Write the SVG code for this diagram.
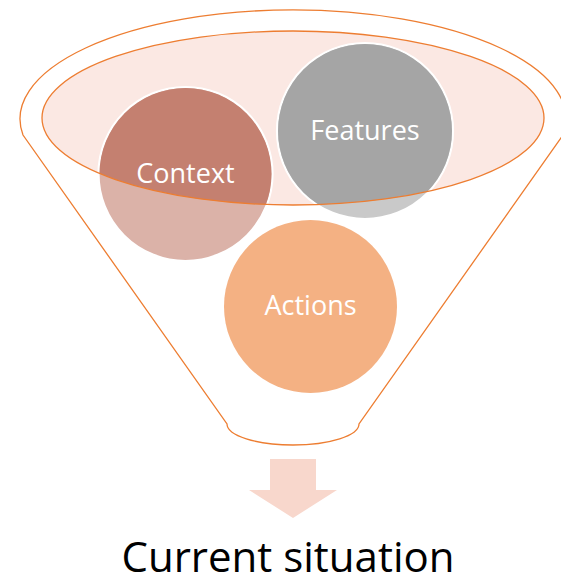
<svg xmlns="http://www.w3.org/2000/svg" width="561" height="583" viewBox="0 0 561 583">
<style>
.funnel{fill:none;stroke:#ED7D31;stroke-width:1.3}
.rim{stroke:#ED7D31;stroke-width:1.3}
.circ{stroke:#FFFFFF;stroke-width:2.2}
.lbl{font-family:"Open Sans","Liberation Sans",sans-serif;font-size:27px;fill:#FFFFFF;text-anchor:middle}
.cap{font-family:"Open Sans","Liberation Sans",sans-serif;font-size:42px;fill:#000000;text-anchor:middle}
</style>
<defs>
<clipPath id="inside"><ellipse cx="293" cy="118" rx="251" ry="87"/></clipPath>
</defs>
<rect width="561" height="583" fill="#FFFFFF"/>
<g id="funnel">
<path class="funnel" d="M 23 135 A 273 109 0 1 1 563 135 L 359 424 A 66 21 0 0 1 227 424 Z"/>
<ellipse cx="293" cy="118" rx="251" ry="87" fill="#FBE8E3"/>
</g>
<g id="context">
<circle class="circ" cx="185.5" cy="174" r="87" fill="#DBB2A8"/>
<circle cx="185.5" cy="174" r="86" fill="#C48070" clip-path="url(#inside)"/>
<text class="lbl" x="185.5" y="183">Context</text>
</g>
<g id="features">
<circle class="circ" cx="365" cy="131" r="88" fill="#C9C9C9"/>
<circle cx="365" cy="131" r="87" fill="#A5A5A5" clip-path="url(#inside)"/>
<text class="lbl" x="365" y="140">Features</text>
</g>
<g id="rim">
<ellipse class="rim" cx="293" cy="118" rx="251" ry="87" fill="none"/>
</g>
<g id="actions">
<circle cx="310.5" cy="306.5" r="86.5" fill="#F4B183"/>
<text class="lbl" x="310.5" y="315">Actions</text>
</g>
<g id="connectors">
<path d="M 270 459 L 316 459 L 316 490 L 337 490 L 293 518 L 249 490 L 270 490 Z" fill="#F8D7CC"/>
</g>
<g id="result">
<text class="cap" x="288" y="572">Current situation</text>
</g>
</svg>
